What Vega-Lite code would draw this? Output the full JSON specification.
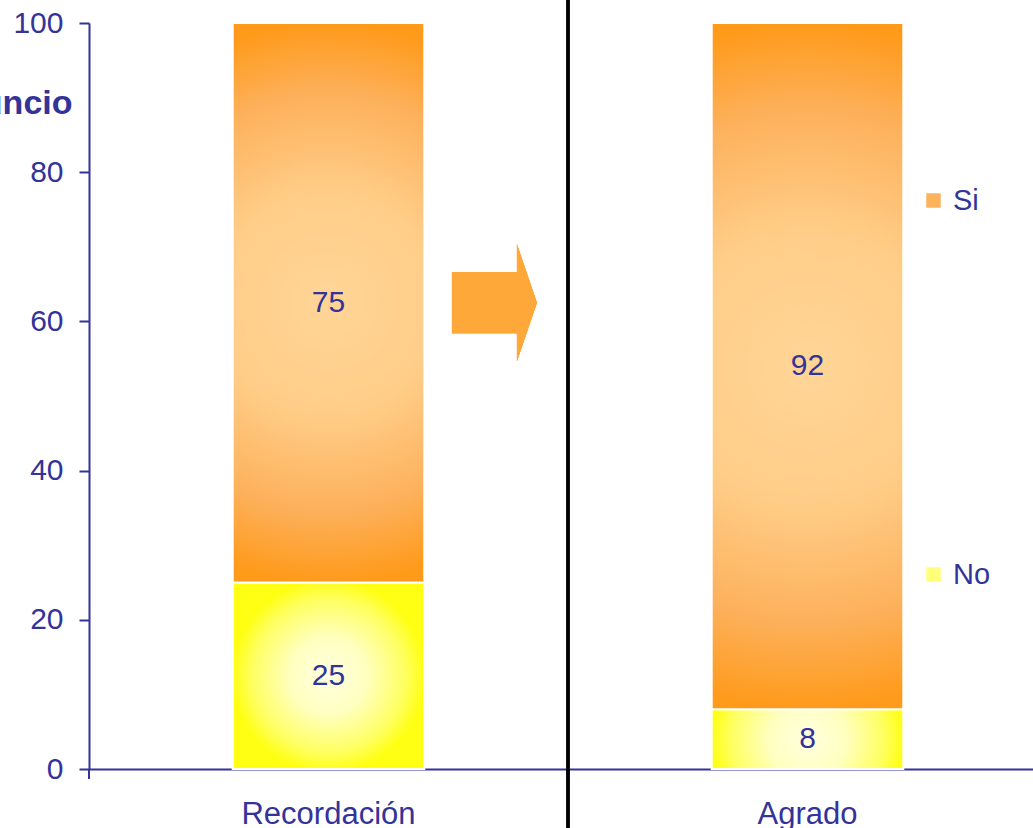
{
  "$schema": "https://vega.github.io/schema/vega-lite/v6.json",
  "width": 944,
  "height": 746,
  "autosize": {"type": "none"},
  "padding": {"left": 89, "top": 23, "right": 0, "bottom": 59},
  "background": "white",
  "config": {"view": {"stroke": null}, "font": "Liberation Sans"},
  "data": {
    "values": [
      {"cat": "Recordación", "resp": "No", "value": 25},
      {"cat": "Recordación", "resp": "Si", "value": 75},
      {"cat": "Agrado", "resp": "No", "value": 8},
      {"cat": "Agrado", "resp": "Si", "value": 92}
    ]
  },
  "encoding": {
    "x": {
      "field": "cat",
      "type": "nominal",
      "sort": ["Recordación", "Agrado"],
      "scale": {"range": [0, 958], "paddingInner": 0.6, "paddingOuter": 0.3},
      "axis": {
        "title": null,
        "labelAngle": 0,
        "labelFontSize": 31,
        "labelColor": "#333399",
        "labelFont": "Liberation Sans",
        "labelPadding": 30,
        "ticks": false,
        "domainColor": "#333399",
        "domainWidth": 2,
        "grid": false
      }
    },
    "y": {
      "field": "value",
      "type": "quantitative",
      "scale": {"domain": [0, 100], "nice": false},
      "axis": {
        "values": [0, 20, 40, 60, 80, 100],
        "title": "Anuncio",
        "titleAngle": 0,
        "titleAlign": "right",
        "titleBaseline": "alphabetic",
        "titleX": -17,
        "titleY": 90,
        "titleFontSize": 34,
        "titleFontWeight": "bold",
        "titleColor": "#333399",
        "titleFont": "Liberation Sans",
        "labelFontSize": 30,
        "labelColor": "#333399",
        "labelFont": "Liberation Sans",
        "labelPadding": 16,
        "tickSize": 10,
        "tickWidth": 2,
        "tickColor": "#333399",
        "domainColor": "#333399",
        "domainWidth": 2,
        "grid": false
      }
    }
  },
  "layer": [
    {
      "mark": {"type": "bar", "stroke": "white", "strokeWidth": 2},
      "encoding": {
        "y": {"field": "value", "type": "quantitative", "stack": "zero"},
        "detail": {"field": "resp"},
        "order": {"field": "resp", "sort": "ascending"},
        "fill": {
          "condition": {
            "test": "datum.resp === 'Si'",
            "value": {
              "gradient": "radial",
              "x1": 0.5, "y1": 0.5, "r1": 0,
              "x2": 0.5, "y2": 0.5, "r2": 0.5,
              "stops": [
                {"offset": 0, "color": "#FFD596"},
                {"offset": 0.4, "color": "#FFCD88"},
                {"offset": 0.75, "color": "#FDB05A"},
                {"offset": 1, "color": "#FF9A1A"}
              ]
            }
          },
          "value": {
            "gradient": "radial",
            "x1": 0.5, "y1": 0.5, "r1": 0,
            "x2": 0.5, "y2": 0.5, "r2": 0.5,
            "stops": [
              {"offset": 0, "color": "#FFFFE0"},
              {"offset": 0.4, "color": "#FFFFC0"},
              {"offset": 0.8, "color": "#FFFF60"},
              {"offset": 1, "color": "#FFFF14"}
            ]
          }
        }
      }
    },
    {
      "mark": {"type": "text", "fontSize": 30, "color": "#333399", "baseline": "middle", "font": "Liberation Sans"},
      "encoding": {
        "y": {"field": "value", "type": "quantitative", "stack": "zero", "bandPosition": 0.5},
        "detail": {"field": "resp"},
        "order": {"field": "resp", "sort": "ascending"},
        "text": {"field": "value", "type": "quantitative"}
      }
    },
    {
      "mark": {"type": "point", "shape": "square", "filled": true, "opacity": 0},
      "encoding": {
        "color": {
          "field": "resp",
          "type": "nominal",
          "scale": {"domain": ["Si", "No"], "range": ["#FDB35B", "#FFFF7A"]},
          "legend": {
            "title": null,
            "orient": "none",
            "legendX": 830,
            "legendY": 163,
            "direction": "vertical",
            "symbolType": "square",
            "symbolSize": 210,
            "symbolOpacity": 1,
            "symbolStrokeWidth": 0,
            "labelFontSize": 29,
            "labelColor": "#333399",
            "labelFont": "Liberation Sans",
            "labelOffset": 5,
            "rowPadding": 344,
            "padding": 0
          }
        }
      }
    },
    {
      "mark": {
        "type": "point",
        "shape": "M -0.726 -0.52 L 0.385 -0.52 L 0.385 -1 L 0.726 0 L 0.385 1 L 0.385 0.52 L -0.726 0.52 Z",
        "filled": true,
        "size": 13689,
        "color": "#FFA83A",
        "opacity": 1,
        "strokeWidth": 0
      },
      "encoding": {
        "x": {"datum": "Recordación", "bandPosition": 1.366},
        "y": {"datum": 62.5}
      }
    },
    {
      "mark": {"type": "rule", "color": "#333399", "strokeWidth": 2, "clip": false},
      "encoding": {
        "x": {"datum": "Recordación", "bandPosition": -0.75},
        "y": {"datum": 0},
        "y2": {"datum": -1.35}
      }
    },
    {
      "mark": {"type": "rule", "color": "black", "strokeWidth": 3, "clip": false},
      "encoding": {
        "x": {"datum": "Recordación", "bandPosition": 1.75},
        "y": {"datum": 103.1},
        "y2": {"datum": -7.9}
      }
    }
  ]
}
